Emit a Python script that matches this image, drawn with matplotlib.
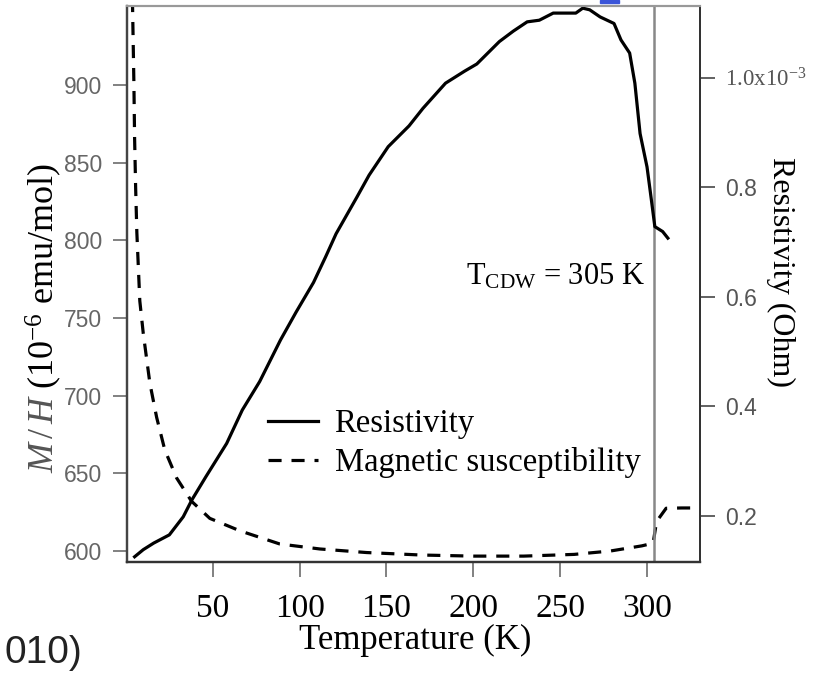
import matplotlib
matplotlib.use("Agg")
import matplotlib.pyplot as plt
from matplotlib.lines import Line2D
from matplotlib.patches import Rectangle

plt.rcParams['font.family'] = ['Liberation Serif', 'DejaVu Serif']
plt.rcParams['mathtext.fontset'] = 'custom'
plt.rcParams['mathtext.rm'] = 'Liberation Serif'
plt.rcParams['mathtext.it'] = 'Liberation Serif:italic'

# resistivity (units of 1e-3 Ohm) vs temperature (K)
temp_res = [5, 10, 16, 25, 33, 38, 46, 58, 67, 77, 89, 98, 108, 115, 121, 133,
            140, 151, 163, 171, 184, 195, 202, 215, 223, 231, 238, 246, 259,
            263, 267, 273, 281, 285, 290, 293, 296, 300, 302.5, 304.5, 309, 312]
resistivity = [0.125, 0.138, 0.150, 0.165, 0.198, 0.229, 0.271, 0.332, 0.393,
               0.445, 0.521, 0.572, 0.626, 0.673, 0.715, 0.782, 0.822, 0.874,
               0.912, 0.944, 0.990, 1.012, 1.025, 1.066, 1.085, 1.102, 1.105,
               1.118, 1.118, 1.127, 1.124, 1.111, 1.099, 1.069, 1.045, 0.990,
               0.898, 0.837, 0.777, 0.728, 0.719, 0.707]

# magnetic susceptibility M/H (1e-6 emu/mol)
temp_sus = [3.6, 3.9, 4.6, 5.0, 5.6, 6.3, 8, 10, 13.8, 17.7, 22.4, 29.2, 37.8,
            48.3, 65.6, 88.6, 111.6, 138.5, 170, 200, 229, 258, 279, 297,
            303.5, 305.5, 311, 320, 331]
susceptibility = [965, 946, 901, 866, 834, 805, 761, 740, 708, 686, 665, 647,
                  632, 621, 613, 604.5, 601.3, 599, 597.4, 596.7, 596.7, 597.8,
                  600, 603.3, 605, 619, 627.5, 627.7, 627.7]

t_cdw = 304
x_ticks = [50, 100, 150, 200, 250, 300]
left_ticks = [600, 650, 700, 750, 800, 850, 900]
right_ticks = [0.2, 0.4, 0.6, 0.8, 1.0]
right_labels = ['0.2', '0.4', '0.6', '0.8', '1.0x10$^{\\mathregular{-3}}$']

W, H = 831, 675
fig = plt.figure(figsize=(W / 100, H / 100), dpi=100)
ax = fig.add_axes([127.3 / W, (H - 561.7) / H, (700 - 127.3) / W, (561.7 - 5.7) / H])
ax2 = ax.twinx()

ax.plot(temp_sus, susceptibility, color='black', lw=2.3, dashes=(4.1, 3.1))
ax2.plot(temp_res, resistivity, color='black', lw=2.3)
ax.axvline(t_cdw, color='#888888', lw=1.8)

ax.set_xlim(0.8, 330.5)
ax.set_ylim(593.1, 951.1)
ax2.set_ylim(0.116, 1.1315)

ax.set_xticks(x_ticks)
ax.set_xticklabels([str(t) for t in x_ticks], fontsize=24)
ax.set_yticks(left_ticks)
ax.set_yticklabels([str(t) for t in left_ticks], fontsize=16.5,
                   family='Liberation Sans', color='#666666')
ax2.set_yticks(right_ticks)
ax2.set_yticklabels(right_labels, fontsize=16.5, family='Liberation Sans',
                    color='#555555')
ax2.get_yticklabels()[-1].set_family('Liberation Serif')

ax.tick_params(axis='x', length=11, width=1.3, color='#777777', pad=12)
ax.tick_params(axis='y', length=10, width=1.3, color='#777777', pad=8)
ax2.tick_params(axis='y', length=11, width=1.3, color='#555555', pad=7)

for a in (ax, ax2):
    a.spines['top'].set_color('#999999')
    a.spines['top'].set_linewidth(1.5)
    a.spines['bottom'].set_color('#333333')
    a.spines['bottom'].set_linewidth(1.6)
    a.spines['left'].set_color('#444444')
    a.spines['left'].set_linewidth(1.6)
    a.spines['right'].set_color('#333333')
    a.spines['right'].set_linewidth(1.4)

ax.text(0.502, -0.141, 'Temperature (K)', transform=ax.transAxes,
        fontsize=25, ha='center', va='center')
ax.text(-0.145, 0.16, '$M\\,/\\,H$', transform=ax.transAxes, fontsize=26,
        color='#555555', rotation=90, ha='center', va='bottom')
ax.text(-0.145, 0.31, '(10$^{\\mathregular{-6}}$ emu/mol)', transform=ax.transAxes,
        fontsize=26, rotation=90, ha='center', va='bottom')
ax2.text(1.14, 0.521, 'Resistivity (Ohm)', transform=ax2.transAxes, fontsize=23,
         rotation=-90, ha='center', va='center')
ax2.text(0.904, 0.498, 'T$_{\\mathregular{CDW}}$ = 305 K', transform=ax2.transAxes,
         fontsize=22, ha='right', va='baseline')

handles = [Line2D([], [], color='black', lw=2.3),
           Line2D([], [], color='black', lw=2.3, dashes=(4.1, 3.1))]
ax2.legend(handles, ['Resistivity', 'Magnetic susceptibility'], loc='upper left',
           bbox_to_anchor=(0.245, 0.275), frameon=False, fontsize=23.5,
           handlelength=1.55, handletextpad=0.5, labelspacing=0.25,
           borderpad=0, borderaxespad=0)

fig.patches.append(Rectangle((600 / W, 1 - 3 / H), 19 / W, 3 / H,
                             transform=fig.transFigure, color='#3b55d9'))
fig.text(4 / W, 12 / H, '010)', fontsize=28, family='Liberation Sans',
         color='#222222', va='baseline')

fig.savefig('out.png', dpi=100)
